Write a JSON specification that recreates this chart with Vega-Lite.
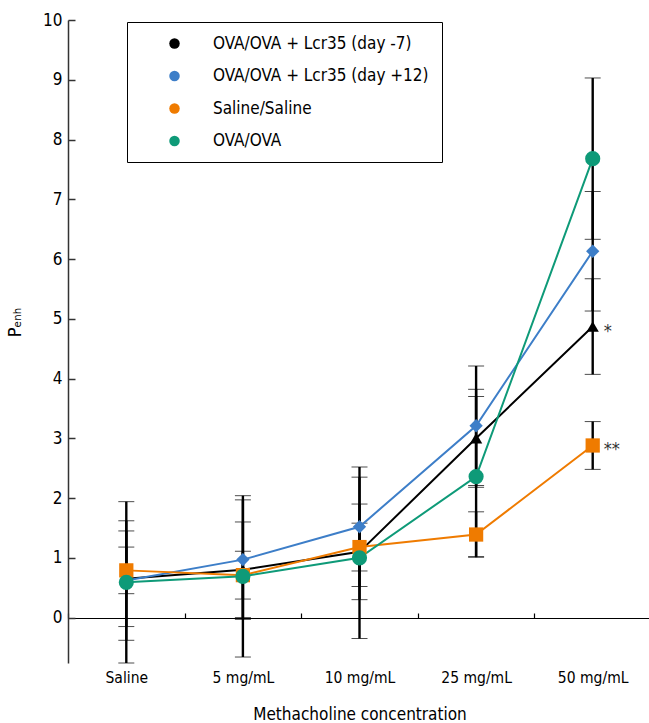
{
  "$schema": "https://vega.github.io/schema/vega-lite/v6.json",
  "width": 583,
  "height": 643,
  "autosize": "none",
  "padding": {"left": 68, "top": 20, "right": 0, "bottom": 60},
  "config": {
    "view": {"stroke": null},
    "font": "DejaVu Sans Condensed, DejaVu Sans, sans-serif"
  },
  "resolve": {"scale": {"color": "independent"}, "legend": {"color": "independent"}},
  "data": {
    "values": [
      {"conc": "Saline", "series": "OVA/OVA + Lcr35 (day -7)", "val": 0.65, "err": 0.8},
      {"conc": "5 mg/mL", "series": "OVA/OVA + Lcr35 (day -7)", "val": 0.8, "err": 0.8},
      {"conc": "10 mg/mL", "series": "OVA/OVA + Lcr35 (day -7)", "val": 1.1, "err": 0.8},
      {"conc": "25 mg/mL", "series": "OVA/OVA + Lcr35 (day -7)", "val": 3.0, "err": 0.82},
      {"conc": "50 mg/mL", "series": "OVA/OVA + Lcr35 (day -7)", "val": 4.87, "err": 0.8},
      {"conc": "Saline", "series": "OVA/OVA + Lcr35 (day +12)", "val": 0.62, "err": 1.0},
      {"conc": "5 mg/mL", "series": "OVA/OVA + Lcr35 (day +12)", "val": 0.97, "err": 1.0},
      {"conc": "10 mg/mL", "series": "OVA/OVA + Lcr35 (day +12)", "val": 1.52, "err": 1.0},
      {"conc": "25 mg/mL", "series": "OVA/OVA + Lcr35 (day +12)", "val": 3.21, "err": 1.0},
      {"conc": "50 mg/mL", "series": "OVA/OVA + Lcr35 (day +12)", "val": 6.13, "err": 1.0},
      {"conc": "Saline", "series": "Saline/Saline", "val": 0.79, "err": 0.39},
      {"conc": "5 mg/mL", "series": "Saline/Saline", "val": 0.71, "err": 0.4},
      {"conc": "10 mg/mL", "series": "Saline/Saline", "val": 1.18, "err": 0.4},
      {"conc": "25 mg/mL", "series": "Saline/Saline", "val": 1.39, "err": 0.38},
      {"conc": "50 mg/mL", "series": "Saline/Saline", "val": 2.88, "err": 0.4},
      {"conc": "Saline", "series": "OVA/OVA", "val": 0.59, "err": 1.35},
      {"conc": "5 mg/mL", "series": "OVA/OVA", "val": 0.69, "err": 1.35},
      {"conc": "10 mg/mL", "series": "OVA/OVA", "val": 1.0, "err": 1.35},
      {"conc": "25 mg/mL", "series": "OVA/OVA", "val": 2.36, "err": 1.34},
      {"conc": "50 mg/mL", "series": "OVA/OVA", "val": 7.68, "err": 1.35}
    ]
  },
  "encoding": {
    "x": {
      "field": "conc", "type": "nominal",
      "sort": ["Saline", "5 mg/mL", "10 mg/mL", "25 mg/mL", "50 mg/mL"],
      "scale": {"type": "band", "paddingInner": 0, "paddingOuter": 0},
      "axis": {
        "orient": "bottom", "offset": -45, "domainColor": "black", "domainWidth": 1.2,
        "tickColor": "black", "tickWidth": 1.2, "tickSize": -5, "tickBand": "extent",
        "labelAngle": 0, "labelPadding": 57, "labelFontSize": 15.5, "labelColor": "black",
        "title": "Methacholine concentration", "titleFontSize": 17, "titleFontWeight": "normal",
        "titleColor": "black", "titleY": 88, "grid": false
      }
    },
    "y": {
      "field": "val", "type": "quantitative",
      "scale": {"domain": [-0.76, 10], "nice": false, "zero": false},
      "axis": {
        "values": [0, 1, 2, 3, 4, 5, 6, 7, 8, 9, 10],
        "domainColor": "#333", "domainWidth": 1.5, "tickColor": "#333", "tickWidth": 1.5,
        "tickSize": -7, "labelPadding": 13, "labelFontSize": 17, "labelColor": "black", "grid": false,
        "title": "Pₑₙₕ", "titleFontSize": 18, "titleFontWeight": "normal", "titleColor": "black",
        "titleAngle": -90, "titleX": -48, "titleY": 302, "titleAlign": "center", "titleBaseline": "alphabetic"
      }
    }
  },
  "layer": [
    {
      "mark": {
        "type": "errorbar",
        "color": "black",
        "ticks": {"size": 16, "color": "black", "strokeWidth": 2},
        "rule": {"color": "black", "strokeWidth": 2.4}
      },
      "encoding": {
        "yError": {"field": "err"},
        "detail": {"field": "series"}
      }
    },
    {
      "mark": {"type": "line", "strokeWidth": 2},
      "encoding": {
        "color": {
          "field": "series", "type": "nominal",
          "scale": {
            "domain": ["OVA/OVA + Lcr35 (day -7)", "OVA/OVA + Lcr35 (day +12)", "Saline/Saline", "OVA/OVA"],
            "range": ["#000000", "#3D7EC8", "#EF7B00", "#0E9A78"]
          },
          "legend": null
        }
      }
    },
    {
      "mark": {"type": "point", "filled": true, "opacity": 1},
      "encoding": {
        "color": {
          "field": "series", "type": "nominal",
          "scale": {
            "domain": ["OVA/OVA + Lcr35 (day -7)", "OVA/OVA + Lcr35 (day +12)", "Saline/Saline", "OVA/OVA"],
            "range": ["#000000", "#3D7EC8", "#EF7B00", "#0E9A78"]
          },
          "legend": {
            "orient": "none", "legendX": 59, "legendY": 2, "title": null,
            "strokeColor": "black", "padding": 13,
            "labelFontSize": 17, "labelColor": "black", "labelLimit": 400,
            "symbolSize": 110, "symbolOffset": 26, "labelOffset": 30, "rowPadding": 14.5,
            "symbolOpacity": 1
          }
        },
        "shape": {
          "field": "series", "type": "nominal",
          "scale": {
            "domain": ["OVA/OVA + Lcr35 (day -7)", "OVA/OVA + Lcr35 (day +12)", "Saline/Saline", "OVA/OVA"],
            "range": ["triangle-up", "diamond", "square", "circle"]
          },
          "legend": {
            "orient": "none", "legendX": 59, "legendY": 2, "title": null,
            "strokeColor": "black", "padding": 13,
            "labelFontSize": 17, "labelColor": "black", "labelLimit": 400,
            "symbolSize": 110, "symbolOffset": 26, "labelOffset": 30, "rowPadding": 14.5,
            "symbolOpacity": 1
          }
        },
        "size": {
          "field": "series", "type": "nominal",
          "scale": {
            "domain": ["OVA/OVA + Lcr35 (day -7)", "OVA/OVA + Lcr35 (day +12)", "Saline/Saline", "OVA/OVA"],
            "range": [150, 230, 110, 150]
          },
          "legend": null
        }
      }
    },
    {
      "data": {
        "values": [
          {"conc": "50 mg/mL", "val": 4.87, "label": "*"},
          {"conc": "50 mg/mL", "val": 2.88, "label": "**"}
        ]
      },
      "mark": {"type": "text", "align": "left", "baseline": "middle", "dx": 11, "dy": 5, "fontSize": 18, "color": "#333"},
      "encoding": {
        "text": {"field": "label"}
      }
    }
  ]
}
